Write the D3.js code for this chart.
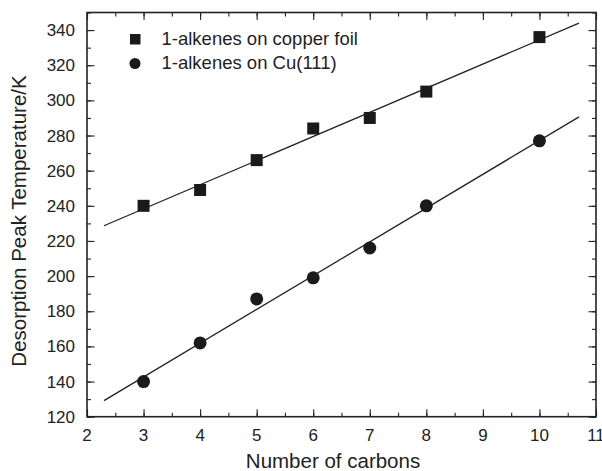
<!DOCTYPE html>
<html lang="en">
<head>
    <meta charset="UTF-8">
    <script src="https://d3js.org/d3.v7.min.js"></script>
    <style>
        body { margin: 0; background: #fff; }
        text { font-family: "Liberation Sans", Arial, Helvetica, sans-serif; fill: #222; }
    </style>
</head>
<body>
    <svg width="602" height="471"></svg>

    <script>
        // values
        let carbons = [3, 4, 5, 6, 7, 8, 10];
        let copperFoil = [240, 249, 266, 284, 290, 305, 336];
        let cu111 = [140, 162, 187, 199, 216, 240, 277];
        let seriesNames = ["1-alkenes on copper foil", "1-alkenes on Cu(111)"];
        let xTicks = [2, 3, 4, 5, 6, 7, 8, 9, 10, 11];
        let yTicks = [120, 140, 160, 180, 200, 220, 240, 260, 280, 300, 320, 340];
        let fitRange = [2.3, 10.7];

        let svg = d3.select("svg");
        let plotL = 87, plotR = 596, plotT = 12.5, plotB = 416.7;

        let x = d3.scaleLinear().domain([2, 11]).range([plotL, plotR]);
        let y = d3.scaleLinear().domain([120, 350]).range([plotB, plotT]);

        let xMinor = d3.range(2, 11.01, 0.5);
        let yMinor = d3.range(120, 350.1, 10);

        // inward ticks on all four sides
        function ticks(axis, vals, len) {
            return axis.tickValues(vals).tickSize(len).tickFormat("");
        }

        let frame = svg.append("g");
        frame.append("g").attr("transform", "translate(0," + plotB + ")").call(ticks(d3.axisTop(x), xMinor, 4));
        frame.append("g").attr("transform", "translate(0," + plotB + ")").call(ticks(d3.axisTop(x), xTicks, 7.5));
        frame.append("g").attr("transform", "translate(0," + plotT + ")").call(ticks(d3.axisBottom(x), xMinor, 4));
        frame.append("g").attr("transform", "translate(0," + plotT + ")").call(ticks(d3.axisBottom(x), xTicks, 7.5));
        frame.append("g").attr("transform", "translate(" + plotL + ",0)").call(ticks(d3.axisRight(y), yMinor, 4));
        frame.append("g").attr("transform", "translate(" + plotL + ",0)").call(ticks(d3.axisRight(y), yTicks, 7.5));
        frame.append("g").attr("transform", "translate(" + plotR + ",0)").call(ticks(d3.axisLeft(y), yMinor, 4));
        frame.append("g").attr("transform", "translate(" + plotR + ",0)").call(ticks(d3.axisLeft(y), yTicks, 7.5));
        frame.selectAll(".domain").remove();
        frame.selectAll("line").attr("stroke", "#222").attr("stroke-width", 1.1);

        frame.append("rect")
            .attr("x", plotL).attr("y", plotT)
            .attr("width", plotR - plotL).attr("height", plotB - plotT)
            .attr("fill", "none").attr("stroke", "#222").attr("stroke-width", 1.6);

        // tick labels
        svg.append("g").selectAll("text").data(xTicks).enter().append("text")
            .attr("x", d => x(d)).attr("y", 441)
            .attr("text-anchor", "middle").attr("font-size", 17)
            .text(d => d);
        svg.append("g").selectAll("text").data(yTicks).enter().append("text")
            .attr("x", 75).attr("y", d => y(d) + 6)
            .attr("text-anchor", "end").attr("font-size", 17)
            .text(d => d);

        // axis titles
        svg.append("text")
            .attr("x", 333).attr("y", 467.5)
            .attr("text-anchor", "middle").attr("font-size", 20.5)
            .text("Number of carbons");
        svg.append("text")
            .attr("transform", "translate(26,221) rotate(-90)")
            .attr("text-anchor", "middle").attr("font-size", 20.5)
            .text("Desorption Peak Temperature/K");

        // least squares fit through each series
        function fit(xs, ys) {
            let mx = d3.mean(xs), my = d3.mean(ys);
            let sxy = d3.sum(xs, (v, i) => (v - mx) * (ys[i] - my));
            let sxx = d3.sum(xs, v => (v - mx) * (v - mx));
            let b = sxy / sxx;
            return v => my + b * (v - mx);
        }

        let line = d3.line().x(d => x(d[0])).y(d => y(d[1]));
        [copperFoil, cu111].forEach(ys => {
            let f = fit(carbons, ys);
            svg.append("path")
                .attr("d", line(fitRange.map(v => [v, f(v)])))
                .attr("fill", "none").attr("stroke", "#222").attr("stroke-width", 1.3);
        });

        // markers
        let sq = 12;
        svg.append("g").selectAll("rect").data(carbons).enter().append("rect")
            .attr("x", d => x(d) - sq / 2)
            .attr("y", (d, i) => y(copperFoil[i]) - sq / 2)
            .attr("width", sq).attr("height", sq)
            .attr("fill", "#1a1a1a");
        svg.append("g").selectAll("circle").data(carbons).enter().append("circle")
            .attr("cx", d => x(d))
            .attr("cy", (d, i) => y(cu111[i]))
            .attr("r", 6.5)
            .attr("fill", "#1a1a1a");

        // legend
        let legend = svg.append("g");
        legend.append("rect").attr("x", 130).attr("y", 34).attr("width", 10.5).attr("height", 10.5).attr("fill", "#1a1a1a");
        legend.append("circle").attr("cx", 135).attr("cy", 63.5).attr("r", 5.5).attr("fill", "#1a1a1a");
        legend.selectAll("text").data(seriesNames).enter().append("text")
            .attr("x", 161.5).attr("y", (d, i) => 45 + i * 23.5)
            .attr("font-size", 18.5)
            .text(d => d);
    </script>
</body>
</html>
